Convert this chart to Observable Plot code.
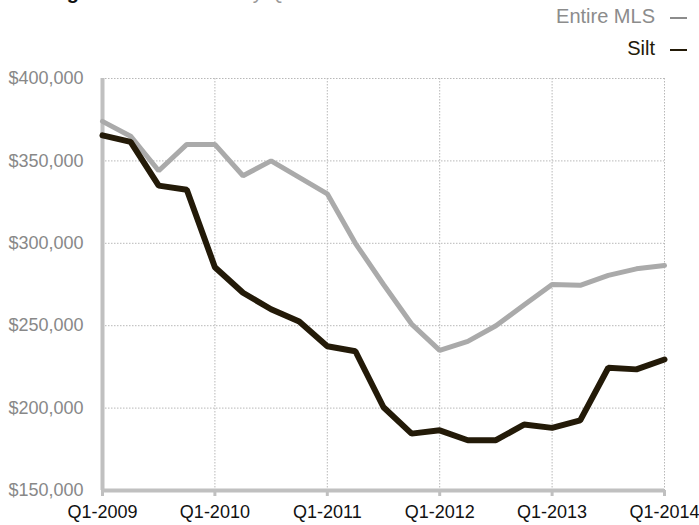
<!DOCTYPE html>
<html><head><meta charset="utf-8">
<script src="https://cdn.jsdelivr.net/npm/d3@7"></script>
<script src="https://cdn.jsdelivr.net/npm/@observablehq/plot@0.6"></script>
<style>
body{margin:0;background:#fff;font-family:"Liberation Sans",Arial,Helvetica,sans-serif;}
#wrap{position:relative;width:699px;height:525px;overflow:hidden;}
#chart{position:absolute;left:0;top:0;}
.t{position:absolute;top:-19px;line-height:22px;font-size:20px;white-space:nowrap;}
.lg{position:absolute;right:12px;font-size:20px;line-height:22px;white-space:nowrap;}
.lg .d{display:inline-block;width:17px;height:2px;margin-left:15px;vertical-align:middle;}
</style>
</head><body>
<div id="wrap">
  <div id="chart"></div>
  <div class="t" style="left:12px;font-weight:bold;color:#111;">Average</div>
  <div class="t" style="left:145px;color:#999;">Sale Price by Quarter</div>
  <div class="lg" style="top:5px;color:#8c8c8c;">Entire MLS<span class="d" style="background:#8c8c8c"></span></div>
  <div class="lg" style="top:37px;color:#231a08;">Silt<span class="d" style="background:#231a08"></span></div>
</div>
<script>
const quarters = ["Q1-2009","Q2-2009","Q3-2009","Q4-2009","Q1-2010","Q2-2010","Q3-2010","Q4-2010",
  "Q1-2011","Q2-2011","Q3-2011","Q4-2011","Q1-2012","Q2-2012","Q3-2012","Q4-2012",
  "Q1-2013","Q2-2013","Q3-2013","Q4-2013","Q1-2014"];
const entireMLS = [374000,365000,344000,360000,360000,341000,350000,340000,330000,300000,275000,
  251000,235000,240500,250000,262500,275000,274500,280500,284500,286500];
const silt = [365500,361500,335000,332500,285500,270000,260000,252500,237500,234500,200500,
  184500,186500,180500,180500,190000,188000,192500,224500,223500,229500];
const xTickLabels = ["Q1-2009","Q1-2010","Q1-2011","Q1-2012","Q1-2013","Q1-2014"];
const yTicks = [150000,200000,250000,300000,350000,400000];

const rows = [
  ...entireMLS.map((v,i) => ({i, v, series:"Entire MLS"})),
  ...silt.map((v,i) => ({i, v, series:"Silt"}))
];
const xTicks = xTickLabels.map(l => quarters.indexOf(l));

const chart = Plot.plot({
  width: 699, height: 525,
  marginTop: 78, marginBottom: 35, marginLeft: 102, marginRight: 35,
  style: {fontFamily: '"Liberation Sans",Arial,Helvetica,sans-serif', fontSize: "18px", background: "transparent", overflow: "visible"},
  x: {domain: [0, quarters.length - 1], label: null},
  y: {domain: [150000, 400000], label: null},
  marks: [
    Plot.gridX(xTicks.slice(1), {stroke:"#b8b8b8", strokeOpacity:1, strokeDasharray:"1.5,1.5", strokeWidth:1}),
    Plot.gridY(yTicks.slice(1), {stroke:"#b8b8b8", strokeOpacity:1, strokeDasharray:"1.5,1.5", strokeWidth:1}),
    Plot.axisY(yTicks, {label:null, tickSize:0, tickPadding:19, fill:"#888888", tickFormat: d => "$" + d3.format(",")(d)}),
    Plot.axisX(xTicks, {label:null, tickSize:6, tickPadding:9, stroke:"#c0c0c0", strokeWidth:3, fill:"#111111", tickFormat: i => quarters[i]}),
    Plot.ruleY([150000], {stroke:"#c0c0c0", strokeWidth:4}),
    Plot.ruleX([0], {stroke:"#c0c0c0", strokeWidth:4}),
    Plot.line(rows.filter(d => d.series === "Entire MLS"), {x:"i", y:"v", stroke:"#aaaaaa", strokeWidth:5, strokeLinejoin:"miter", strokeLinecap:"round"}),
    Plot.line(rows.filter(d => d.series === "Silt"), {x:"i", y:"v", stroke:"#231a08", strokeWidth:6, strokeLinejoin:"miter", strokeLinecap:"round"})
  ]
});
document.getElementById("chart").appendChild(chart);
</script>
</body></html>
